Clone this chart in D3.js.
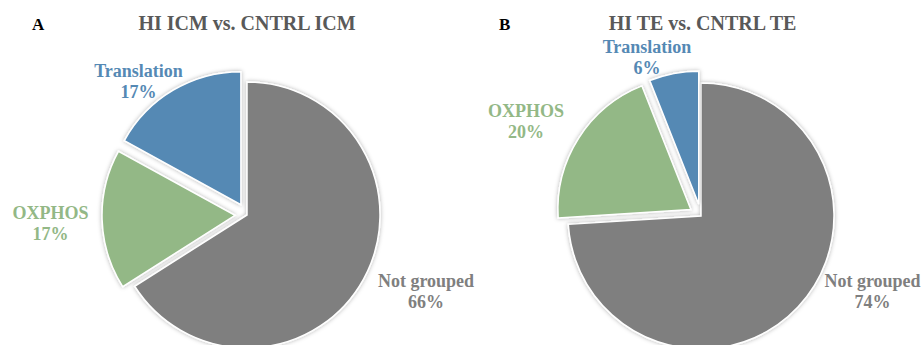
<!DOCTYPE html>
<html>
<head>
<meta charset="utf-8">
<script src="https://cdn.jsdelivr.net/npm/d3@7"></script>
<style>
  html, body { margin: 0; padding: 0; background: #fff; }
  svg { display: block; }
  text { font-family: "Liberation Serif", "Times New Roman", serif; font-weight: bold; }
</style>
</head>
<body>
<svg id="chart" width="923" height="345"></svg>
<script>
// Gene categories and their share (%) in each comparison
const categories = ["Not grouped", "OXPHOS", "Translation"];
const icmValues = [66, 17, 17];
const teValues = [74, 20, 6];
const panelLetters = ["A", "B"];
const panelTitles = ["HI ICM vs. CNTRL ICM", "HI TE vs. CNTRL TE"];

const colors = { "Not grouped": "#7f7f7f", "OXPHOS": "#93b886", "Translation": "#5589b4" };
const exploded = { "Not grouped": 0, "OXPHOS": 12, "Translation": 12 };

const svg = d3.select("#chart");

// soft shadow around the slices
const defs = svg.append("defs");
const f = defs.append("filter").attr("id", "shade")
  .attr("x", "-20%").attr("y", "-20%").attr("width", "140%").attr("height", "140%");
f.append("feDropShadow").attr("dx", 0).attr("dy", 0)
  .attr("stdDeviation", 2.2).attr("flood-color", "#000").attr("flood-opacity", 0.3);

const panels = [
  {
    values: icmValues, letter: panelLetters[0], title: panelTitles[0],
    cx: 247, cy: 215, letterX: 32, titleX: 247,
    labels: {
      "Translation": [138.5, 77],
      "OXPHOS": [50.5, 219],
      "Not grouped": [426, 287]
    }
  },
  {
    values: teValues, letter: panelLetters[1], title: panelTitles[1],
    cx: 701, cy: 216, letterX: 499, titleX: 702.5,
    labels: {
      "Translation": [647, 53],
      "OXPHOS": [526, 117],
      "Not grouped": [872.5, 287]
    }
  }
];

const radius = 133;
const pie = d3.pie().sort(null).value(d => d.value);
const arc = d3.arc().innerRadius(0).outerRadius(radius);

panels.forEach(p => {
  const rows = categories.map((c, i) => ({ cat: c, value: p.values[i] }));
  const arcs = pie(rows);

  const g = svg.append("g").attr("transform", `translate(${p.cx},${p.cy})`);
  g.selectAll("path").data(arcs).join("path")
    .attr("d", arc)
    .attr("transform", d => {
      const mid = (d.startAngle + d.endAngle) / 2;
      const o = exploded[d.data.cat];
      return `translate(${o * Math.sin(mid)},${-o * Math.cos(mid)})`;
    })
    .attr("fill", d => colors[d.data.cat])
    .attr("stroke", "#fff")
    .attr("stroke-width", 1.5)
    .attr("filter", "url(#shade)");

  // category / percentage labels
  arcs.forEach(d => {
    const [lx, ly] = p.labels[d.data.cat];
    const t = svg.append("text")
      .attr("x", lx).attr("y", ly)
      .attr("text-anchor", "middle")
      .attr("font-size", 18)
      .attr("fill", colors[d.data.cat]);
    t.append("tspan").attr("x", lx).text(d.data.cat);
    t.append("tspan").attr("x", lx).attr("dy", 20.5).text(d.data.value + "%");
  });

  svg.append("text")
    .attr("x", p.titleX).attr("y", 30)
    .attr("text-anchor", "middle")
    .attr("font-size", 20)
    .attr("fill", "#595959")
    .text(p.title);

  svg.append("text")
    .attr("x", p.letterX).attr("y", 30)
    .attr("font-size", 17)
    .attr("fill", "#000")
    .text(p.letter);
});
</script>
</body>
</html>
